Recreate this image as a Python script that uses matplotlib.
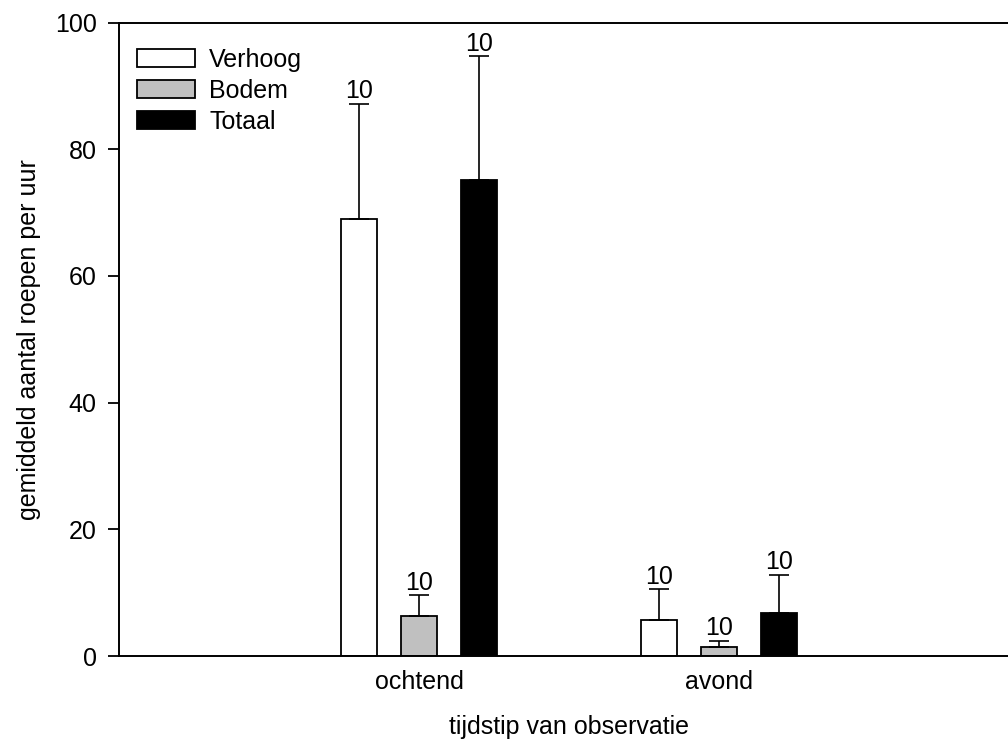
import numpy as np
import matplotlib
matplotlib.use("Agg")
import matplotlib.pyplot as plt

plt.rcParams['font.family'] = ['Liberation Sans', 'DejaVu Sans']

# Observation moments and mean calls per hour (upper error = SD)
categories = ['ochtend', 'avond']
series_names = ['Verhoog', 'Bodem', 'Totaal']
verhoog_mean = [69.0, 5.7]
verhoog_err = [18.2, 4.8]
bodem_mean = [6.3, 1.4]
bodem_err = [3.3, 1.0]
totaal_mean = [75.2, 6.8]
totaal_err = [19.5, 6.0]
sample_sizes = [[10, 10], [10, 10], [10, 10]]
y_ticks = [0, 20, 40, 60, 80, 100]

means = [verhoog_mean, bodem_mean, totaal_mean]
errors = [verhoog_err, bodem_err, totaal_err]
colors = ['white', '#c0c0c0', 'black']

fs = 18
fig = plt.figure(figsize=(10.08, 7.45), dpi=100)
# axes extends a little past the right side of the figure
ax = fig.add_axes([119 / 1008, 89 / 745, 900.5 / 1008, 633.5 / 745])

x = np.arange(1, len(categories) + 1)
offsets = [-0.2, 0.0, 0.2]
width = 0.12
for name, m, e, c, off, ns in zip(series_names, means, errors, colors, offsets, sample_sizes):
    xs = x + off
    ax.bar(xs, m, width=width, color=c, edgecolor='black', linewidth=1.3,
           label=name, zorder=2)
    ax.errorbar(xs, m, yerr=[np.zeros(len(m)), e], fmt='none', ecolor='black',
                elinewidth=1.2, capsize=7, capthick=1.2, zorder=3)
    for xi, mi, ei, n in zip(xs, m, e, ns):
        ax.annotate(str(n), xy=(xi, mi + ei), xytext=(0, 0.3),
                    textcoords='offset points', ha='center', va='bottom',
                    fontsize=fs)

ax.set_xlim(0, 3)
ax.set_ylim(0, 100)
ax.set_yticks(y_ticks)
ax.set_xticks(x, categories)
ax.tick_params(axis='y', direction='out', length=8, width=1.3, pad=8,
               labelsize=fs)
ax.tick_params(axis='x', length=0, pad=10, labelsize=fs)
for sp in ax.spines.values():
    sp.set_linewidth(1.4)

ax.set_ylabel('gemiddeld aantal roepen per uur', fontsize=fs, labelpad=10)
ax.set_xlabel('tijdstip van observatie', fontsize=fs, labelpad=15)

ax.legend(loc='upper left', bbox_to_anchor=(137 / 1008, 1 - 48 / 745),
          bbox_transform=fig.transFigure, frameon=False, fontsize=fs,
          handlelength=2.3, handleheight=0.75, handletextpad=0.58,
          labelspacing=0.28, borderpad=0, borderaxespad=0)

fig.savefig('out.png', dpi=100)
